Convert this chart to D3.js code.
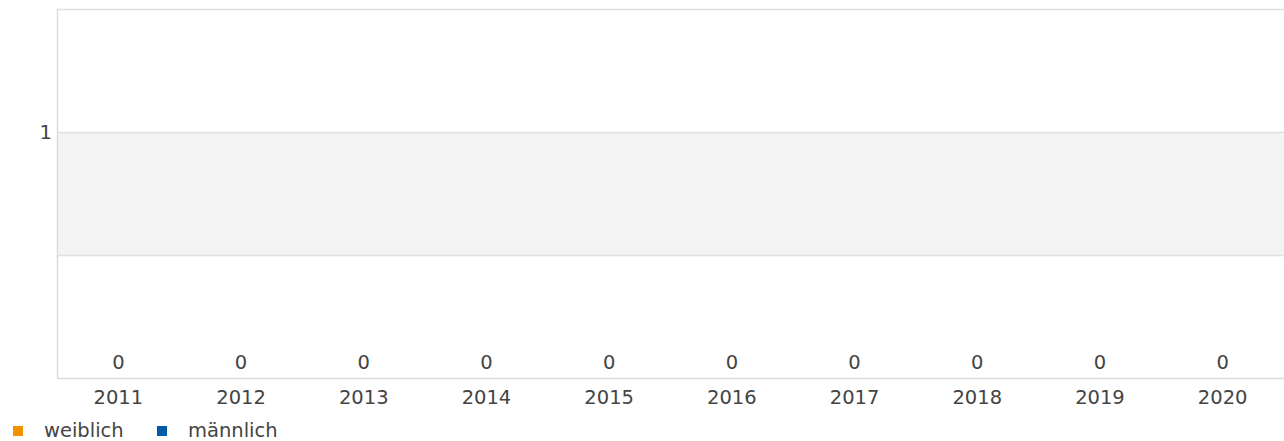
<!DOCTYPE html>
<html>
<head>
<meta charset="utf-8">
<script src="https://cdn.jsdelivr.net/npm/d3@7"></script>
<style>
  body { margin: 0; background: #fff; }
  text { font-family: "DejaVu Sans", sans-serif; }
</style>
</head>
<body>
<div id="chart"></div>
<script>
// categories and series
const years = ['2011', '2012', '2013', '2014', '2015', '2016', '2017', '2018', '2019', '2020'];
const weiblich = [0, 0, 0, 0, 0, 0, 0, 0, 0, 0];
const maennlich = [0, 0, 0, 0, 0, 0, 0, 0, 0, 0];
const seriesNames = ['weiblich', 'männlich'];
const seriesColors = ['#f39200', '#005ca9'];
const yTicks = [0.5, 1, 1.5];

const width = 1284;
const height = 441;
const margin = { top: 9, right: 0, bottom: 63, left: 57 };
const fontSize = 19.5;
const textColor = '#444';

const svg = d3.select('#chart')
  .append('svg')
  .attr('width', width)
  .attr('height', height);

const x = d3.scaleBand()
  .domain(years)
  .range([margin.left, width - margin.right])
  .paddingInner(0.25)
  .paddingOuter(0.125);

const y = d3.scaleLinear()
  .domain([0, 1.5])
  .range([height - margin.bottom, margin.top]);

// alternating band
svg.append('rect')
  .attr('x', margin.left)
  .attr('y', y(1))
  .attr('width', width - margin.left)
  .attr('height', y(0.5) - y(1))
  .attr('fill', '#f3f3f3');

// gridlines
svg.append('g')
  .selectAll('line')
  .data(yTicks)
  .enter().append('line')
  .attr('x1', margin.left)
  .attr('x2', width)
  .attr('y1', d => Math.round(y(d)) + 0.5)
  .attr('y2', d => Math.round(y(d)) + 0.5)
  .attr('stroke', '#e0e0e0')
  .attr('stroke-width', 1.5);

// left + bottom frame
svg.append('line')
  .attr('x1', margin.left + 0.5).attr('x2', margin.left + 0.5)
  .attr('y1', y(1.5)).attr('y2', y(0))
  .attr('stroke', '#dcdcdc')
  .attr('stroke-width', 1.5);
svg.append('line')
  .attr('x1', margin.left).attr('x2', width)
  .attr('y1', Math.round(y(0)) + 0.5).attr('y2', Math.round(y(0)) + 0.5)
  .attr('stroke', '#dcdcdc')
  .attr('stroke-width', 1.5);

// y label (only integer)
svg.append('g')
  .selectAll('text')
  .data(yTicks.filter(d => d === 1))
  .enter().append('text')
  .attr('x', margin.left - 5)
  .attr('y', d => y(d))
  .attr('dy', '0.35em')
  .attr('text-anchor', 'end')
  .attr('font-size', fontSize)
  .attr('fill', textColor)
  .text(d => d);

// stacked bars (all zero)
const stackData = years.map((yr, i) => ({ year: yr, weiblich: weiblich[i], 'männlich': maennlich[i] }));
const stacked = d3.stack().keys(seriesNames)(stackData);

svg.append('g')
  .selectAll('g')
  .data(stacked)
  .enter().append('g')
  .attr('fill', (d, i) => seriesColors[i])
  .selectAll('rect')
  .data(d => d)
  .enter().append('rect')
  .attr('x', d => x(d.data.year))
  .attr('y', d => y(d[1]))
  .attr('width', x.bandwidth())
  .attr('height', d => y(d[0]) - y(d[1]));

// total labels
svg.append('g')
  .selectAll('text')
  .data(stackData)
  .enter().append('text')
  .attr('x', d => x(d.year) + x.bandwidth() / 2)
  .attr('y', d => y(d.weiblich + d['männlich']) - 16)
  .attr('dy', '0.35em')
  .attr('text-anchor', 'middle')
  .attr('font-size', fontSize)
  .attr('fill', textColor)
  .text(d => d.weiblich + d['männlich']);

// x axis labels
svg.append('g')
  .selectAll('text')
  .data(years)
  .enter().append('text')
  .attr('x', d => x(d) + x.bandwidth() / 2)
  .attr('y', y(0) + 19)
  .attr('dy', '0.35em')
  .attr('text-anchor', 'middle')
  .attr('font-size', fontSize)
  .attr('fill', textColor)
  .text(d => d);

// legend
const legend = svg.append('g')
  .selectAll('g')
  .data(seriesNames)
  .enter().append('g')
  .attr('transform', (d, i) => `translate(${13 + i * 144},426)`);

legend.append('rect')
  .attr('width', 10)
  .attr('height', 10)
  .attr('fill', (d, i) => seriesColors[i]);

legend.append('text')
  .attr('x', 31)
  .attr('y', 4)
  .attr('dy', '0.35em')
  .attr('font-size', fontSize)
  .attr('fill', textColor)
  .text(d => d);
</script>
</body>
</html>
